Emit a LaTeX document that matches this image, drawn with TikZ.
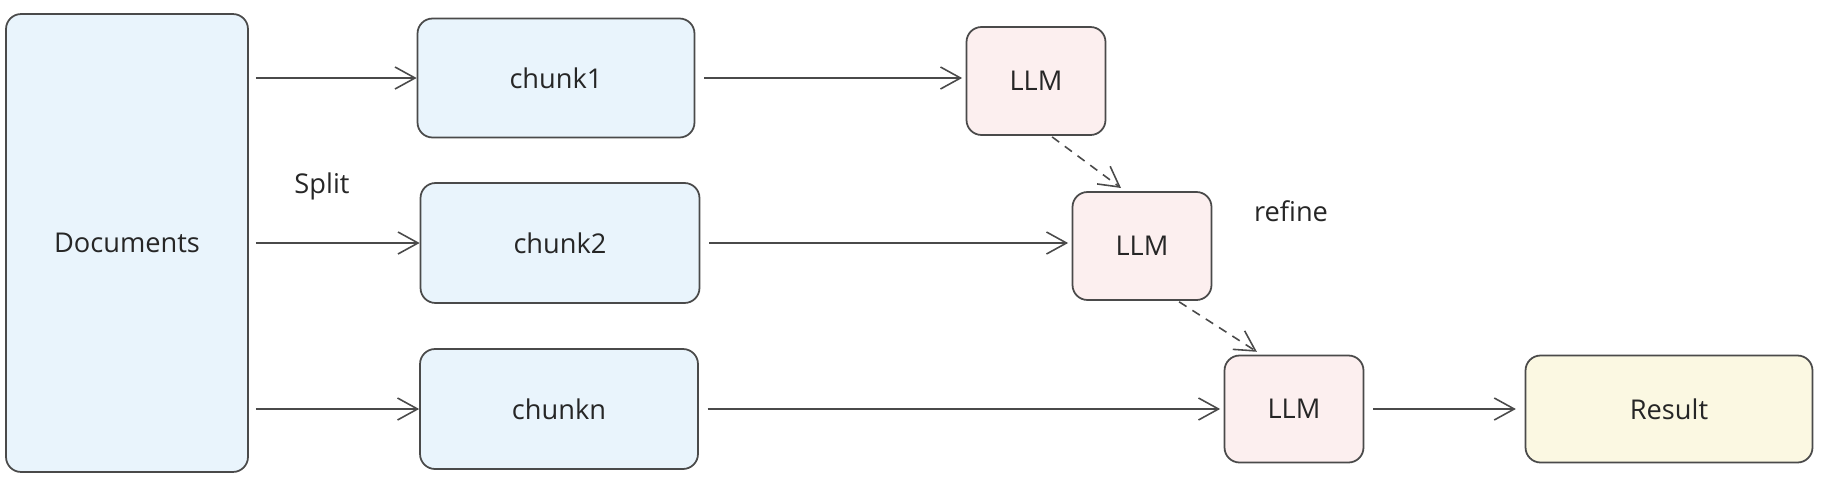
\documentclass[tikz,border=0pt]{standalone}
\usepackage{fontspec}
\setmainfont{Open Sans}
\usetikzlibrary{arrows.meta,positioning,calc}

\definecolor{docblue}{HTML}{E9F4FC}
\definecolor{llmpink}{HTML}{FCEFEF}
\definecolor{resyellow}{HTML}{FBF8E2}
\definecolor{edgegray}{HTML}{4A4A4A}

\tikzset{
    box/.style={draw=edgegray, line width=1pt, rounded corners=0.3cm, align=center,
        font=\fontsize{15.5}{18}\selectfont, text=black!85},
    docbox/.style={box, fill=docblue},
    llmbox/.style={box, fill=llmpink, minimum width=2.78cm, minimum height=2.16cm},
    flow/.style={-{Straight Barb[length=4mm,width=4.4mm]}, draw=edgegray, line width=0.9pt},
    refineflow/.style={flow, dashed, dash pattern=on 5pt off 4pt}
}

\begin{document}
\begin{tikzpicture}[x=0.02cm, y=-0.02cm]
                \useasboundingbox (0,0) rectangle (1821,477);

                % Documents
                \node[docbox, minimum width=4.84cm, minimum height=9.16cm] (docs) at (127,243) {Documents};
                \node[font=\fontsize{15.5}{18}\selectfont, text=black!85] (split) at (322,186) {Split};

                % chunks
                \node[docbox, minimum width=5.54cm, minimum height=2.38cm] (chunk1) at (556,78) {chunk1};
                \node[docbox, minimum width=5.58cm, minimum height=2.40cm] (chunk2) at (560,243) {chunk2};
                \node[docbox, minimum width=5.56cm, minimum height=2.40cm] (chunkn) at (559,409) {chunkn};

                % LLM calls
                \node[llmbox] (llm1) at (1036,81) {LLM};
                \node[llmbox] (llm2) at (1142,246) {LLM};
                \node[llmbox, minimum height=2.14cm] (llm3) at (1294,409) {LLM};
                \node[font=\fontsize{15.5}{18}\selectfont, text=black!85] (refine) at (1291,211) {refine};

                % Result
                \node[box, fill=resyellow, minimum width=5.74cm, minimum height=2.14cm] (result) at (1669,409) {Result};

                % split arrows
                \draw[flow, shorten <=4pt] (docs.east |- chunk1.west) -- (chunk1.west);
                \draw[flow, shorten <=4pt] (docs.east |- chunk2.west) -- (chunk2.west);
                \draw[flow, shorten <=4pt] (docs.east |- chunkn.west) -- (chunkn.west);

                % chunks to LLM
                \draw[flow, shorten <=5pt, shorten >=2pt] (chunk1.east) -- (llm1.west |- chunk1.east);
                \draw[flow, shorten <=5pt, shorten >=2pt] (chunk2.east) -- (llm2.west |- chunk2.east);
                \draw[flow, shorten <=5pt, shorten >=2pt] (chunkn.east) -- (llm3.west |- chunkn.east);

                % refine chain
                \draw[refineflow, shorten <=1pt, shorten >=3pt] (llm1.-75) -- (llm2.107);
                \draw[refineflow, shorten <=1pt, shorten >=3pt] (llm2.-57) -- (llm3.121);

                % final answer
                \draw[flow, shorten <=5pt, shorten >=5pt] (llm3.east) -- (result.west);
            \end{tikzpicture}
\end{document}
